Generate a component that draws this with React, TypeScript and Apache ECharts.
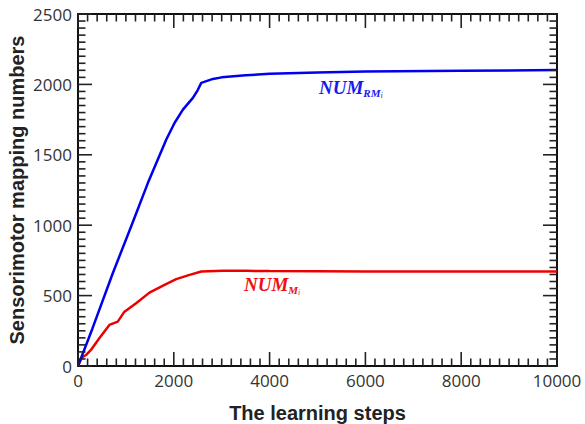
import React, { useEffect, useRef } from "react";
import * as echarts from "echarts";

const blueSteps = [0, 300, 726, 1109, 1458, 1841, 2015, 2190, 2399, 2500, 2573, 2817, 3000, 3500, 4000, 5000, 6000, 8000, 10000];
const blueValues = [0, 265, 659, 991, 1299, 1607, 1726, 1821, 1904, 1960, 2011, 2039, 2050, 2065, 2075, 2085, 2092, 2097, 2102];
const redSteps = [0, 80, 167, 270, 445, 655, 830, 970, 1213, 1492, 1806, 2050, 2330, 2573, 3025, 3500, 4000, 6000, 8000, 10000];
const redValues = [0, 60, 78, 114, 197, 292, 315, 386, 446, 521, 576, 617, 647, 671, 676, 676, 674, 672, 672, 672];

const xTitle = "The learning steps";
const yTitle = "Sensorimotor mapping numbers";

const X_MIN = 0, X_MAX = 10000, X_MAJOR = 2000, X_MINOR = 200;
const Y_MIN = 0, Y_MAX = 2500, Y_MAJOR = 500, Y_MINOR = 50;

export default function App() {
  const ref = useRef<HTMLDivElement>(null);
  useEffect(() => {
    const chart = echarts.init(ref.current!, null, { renderer: "svg" });

    const xTicks: number[][] = [];
    for (let v = X_MIN; v <= X_MAX; v += X_MINOR) xTicks.push([v, Y_MIN, v % X_MAJOR === 0 ? 1 : 0]);
    const yTicks: number[][] = [];
    for (let v = Y_MIN; v <= Y_MAX; v += Y_MINOR) yTicks.push([X_MIN, v, v % Y_MAJOR === 0 ? 1 : 0]);

    const MAJ = 14, MIN = 7.5;
    const tickStyle = { stroke: "#222", lineWidth: 1.6 };

    const tickFont = { fontFamily: "Open Sans", fontSize: 17, color: "#333", formatter: (v: number) => String(v) };
    const frame = {
      axisLine: { show: true, onZero: false, lineStyle: { color: "#111", width: 2 } },
      axisTick: { show: false },
      minorTick: { show: false },
      splitLine: { show: false },
    };
    const sub = (color: string) => ({
      b: { fontFamily: "Liberation Serif", fontStyle: "italic", fontWeight: "bold", fontSize: 19, fill: color },
      s: { fontFamily: "Liberation Serif", fontStyle: "italic", fontWeight: "bold", fontSize: 11, fill: color, padding: [11, 0, 0, 0] },
      ss: { fontFamily: "Liberation Serif", fontStyle: "italic", fontSize: 8, fill: color, padding: [16, 0, 0, 0] },
    });
    chart.setOption({
      animation: false,
      backgroundColor: "#fff",
      grid: { left: 78, right: 28, top: 14, bottom: 58, containLabel: false, outerBoundsMode: "none" },
      xAxis: [
        {
          type: "value", min: X_MIN, max: X_MAX, interval: X_MAJOR,
          ...frame,
          position: "bottom",
          axisLabel: { ...tickFont, margin: 6 },
          name: xTitle,
          nameLocation: "middle",
          nameGap: 37,
          nameMoveOverlap: false,
          nameTextStyle: { fontFamily: "Liberation Sans", fontWeight: "bold", fontSize: 20, color: "#222" },
        },
        { type: "value", min: X_MIN, max: X_MAX, interval: X_MAJOR, ...frame, position: "top", axisLabel: { show: false } },
      ],
      yAxis: [
        {
          type: "value", min: Y_MIN, max: Y_MAX, interval: Y_MAJOR,
          ...frame,
          position: "left",
          axisLabel: { ...tickFont, margin: 6 },
          name: yTitle,
          nameLocation: "middle",
          nameGap: 51,
          nameMoveOverlap: false,
          nameTextStyle: { fontFamily: "Liberation Sans", fontWeight: "bold", fontSize: 20, color: "#222" },
        },
        { type: "value", min: Y_MIN, max: Y_MAX, interval: Y_MAJOR, ...frame, position: "right", axisLabel: { show: false } },
      ],
      series: [
        {
          type: "custom",
          clip: false,
          silent: true,
          z: 5,
          data: xTicks,
          renderItem: (params: any, api: any) => {
            const v = api.value(0);
            const len = api.value(2) ? MAJ : MIN;
            const b = api.coord([v, Y_MIN]);
            const t = api.coord([v, Y_MAX]);
            return {
              type: "group",
              children: [
                { type: "line", shape: { x1: b[0], y1: b[1], x2: b[0], y2: b[1] - len }, style: tickStyle },
                { type: "line", shape: { x1: t[0], y1: t[1], x2: t[0], y2: t[1] + len }, style: tickStyle },
              ],
            };
          },
        },
        {
          type: "custom",
          clip: false,
          silent: true,
          z: 5,
          data: yTicks,
          renderItem: (params: any, api: any) => {
            const v = api.value(1);
            const len = api.value(2) ? MAJ : MIN;
            const l = api.coord([X_MIN, v]);
            const r = api.coord([X_MAX, v]);
            return {
              type: "group",
              children: [
                { type: "line", shape: { x1: l[0], y1: l[1], x2: l[0] + len, y2: l[1] }, style: tickStyle },
                { type: "line", shape: { x1: r[0], y1: r[1], x2: r[0] - len, y2: r[1] }, style: tickStyle },
              ],
            };
          },
        },
        {
          type: "line",
          data: blueSteps.map((s, i) => [s, blueValues[i]]),
          showSymbol: false,
          lineStyle: { color: "#0000ee", width: 2.5 },
          itemStyle: { color: "#0000ee" },
          z: 3,
        },
        {
          type: "line",
          data: redSteps.map((s, i) => [s, redValues[i]]),
          showSymbol: false,
          lineStyle: { color: "#ee0000", width: 2.5 },
          itemStyle: { color: "#ee0000" },
          z: 2,
        },
      ],
      graphic: [
        { type: "text", left: 319, top: 78, style: { text: "{b|NUM}{s|RM}{ss|i}", rich: sub("#1a1aee") } },
        { type: "text", left: 244, top: 275, style: { text: "{b|NUM}{s|M}{ss|i}", rich: sub("#ee1111") } },
      ],
    });
    return () => chart.dispose();
  }, []);
  return <div ref={ref} style={{ width: 585, height: 424, position: "absolute", left: 0, top: 0 }} />;
}
